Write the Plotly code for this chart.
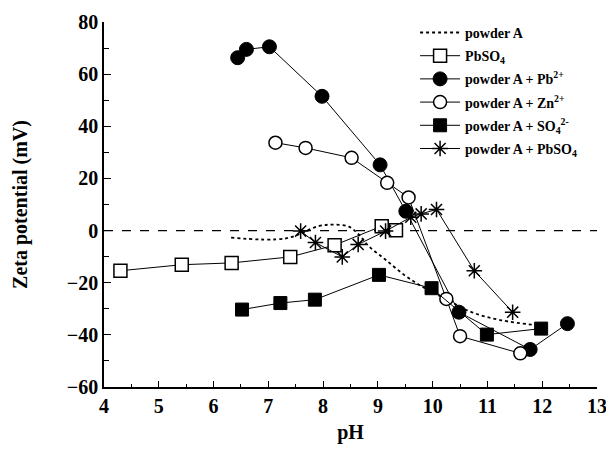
import plotly.graph_objects as go

# powder A (dotted smooth curve)
pa_ph = [6.32, 7.32, 7.92, 8.20, 8.47, 8.65, 8.83, 9.13, 9.50, 9.85, 10.22, 10.70, 11.25, 11.91]
pa_z = [-2.7, -3.0, 1.7, 2.3, 1.5, -1.5, -5.9, -11.0, -17.3, -22.0, -26.0, -31.2, -34.4, -36.3]

# PbSO4 (open squares)
pb_ph = [4.30, 5.42, 6.33, 7.40, 8.21, 9.07, 9.33]
pb_z = [-15.4, -13.1, -12.4, -10.1, -5.6, 1.7, 0.1]

# powder A + Pb2+ (filled circles)
pbion_ph = [6.44, 6.60, 7.02, 7.98, 9.04, 9.51, 10.48, 11.78, 12.46]
pbion_z = [66.3, 69.5, 70.5, 51.5, 25.2, 7.4, -31.3, -45.6, -35.7]

# powder A + Zn2+ (open circles)
zn_ph = [7.13, 7.68, 8.52, 9.17, 9.56, 10.25, 10.50, 11.60]
zn_z = [33.7, 31.7, 27.9, 18.3, 12.7, -26.2, -40.5, -47.1]

# powder A + SO4 2- (filled squares)
so4_ph = [6.52, 7.22, 7.85, 9.02, 9.98, 10.99, 11.98]
so4_z = [-30.3, -27.8, -26.5, -17.0, -22.1, -39.9, -37.6]

# powder A + PbSO4 (asterisks)
mix_ph = [7.59, 7.86, 8.35, 8.64, 9.14, 9.60, 9.79, 10.07, 10.76, 11.46]
mix_z = [-0.2, -4.6, -10.1, -5.3, -0.2, 5.1, 6.4, 8.1, -15.4, -31.3]

x_ticks = [4, 5, 6, 7, 8, 9, 10, 11, 12, 13]
y_ticks = [-60, -40, -20, 0, 20, 40, 60, 80]

FONT = "Liberation Serif"
fig = go.Figure()

fig.add_trace(go.Scatter(x=pa_ph, y=pa_z, mode="lines", name="powder A", legendgroup="a",
                         line=dict(color="black", width=1.8, dash="dot", shape="spline")))
fig.add_trace(go.Scatter(x=pb_ph, y=pb_z, mode="lines+markers", name="PbSO<sub>4</sub>", legendgroup="b",
                         line=dict(color="black", width=1),
                         marker=dict(symbol="square", size=13, color="white",
                                     line=dict(color="black", width=1.5))))
fig.add_trace(go.Scatter(x=pbion_ph, y=pbion_z, mode="lines+markers", name="powder A + Pb<sup>2+</sup>", legendgroup="c",
                         line=dict(color="black", width=1),
                         marker=dict(symbol="circle", size=14, color="black",
                                     line=dict(color="black", width=1))))
fig.add_trace(go.Scatter(x=zn_ph, y=zn_z, mode="lines+markers", name="powder A + Zn<sup>2+</sup>", legendgroup="d",
                         line=dict(color="black", width=1),
                         marker=dict(symbol="circle", size=13, color="white",
                                     line=dict(color="black", width=1.5))))
fig.add_trace(go.Scatter(x=so4_ph, y=so4_z, mode="lines+markers", name="powder A + SO<sub>4</sub><sup>2-</sup>", legendgroup="e",
                         line=dict(color="black", width=1),
                         marker=dict(symbol="square", size=13, color="black",
                                     line=dict(color="black", width=1))))
fig.add_trace(go.Scatter(x=mix_ph, y=mix_z, mode="lines+markers", name="powder A + PbSO<sub>4</sub>", legendgroup="f",
                         line=dict(color="black", width=1),
                         marker=dict(symbol="asterisk-open", size=13, color="black",
                                     line=dict(color="black", width=1.5))))

fig.add_shape(type="line", xref="x", yref="y", x0=4, x1=13, y0=0, y1=0,
              line=dict(color="black", width=1.2, dash="dash"), layer="below")

axis_common = dict(showline=True, linecolor="black", linewidth=1.5, mirror=False, automargin=False,
                   ticks="inside", tickcolor="black", tickwidth=1.2, showgrid=False,
                   zeroline=False, ticklabeloverflow="allow",
                   tickfont=dict(family=FONT, size=20, color="black", weight=700))

fig.update_xaxes(range=[4, 13], tickvals=x_ticks, ticklen=6,
                 minor=dict(dtick=0.5, ticklen=3, ticks="inside", tickcolor="black", tickwidth=1),
                 title=dict(text="pH", font=dict(family=FONT, size=20, color="black", weight=700), standoff=18),
                 **axis_common)
fig.update_yaxes(range=[-60, 80], tickvals=y_ticks, ticklen=7,
                 minor=dict(dtick=10, ticklen=5, ticks="inside", tickcolor="black", tickwidth=1),
                 title=dict(text="Zeta potential (mV)", font=dict(family=FONT, size=20, color="black", weight=700), standoff=34),
                 **axis_common)

fig.update_layout(
    width=598, height=436,
    margin=dict(l=96, r=9, t=12, b=57),
    plot_bgcolor="white", paper_bgcolor="white",
    font=dict(family=FONT, color="black"),
    legend=dict(x=0.631, y=1.014, xanchor="left", yanchor="top",
                font=dict(family=FONT, size=14, color="black", weight=700),
                bgcolor="rgba(0,0,0,0)", itemwidth=40, tracegroupgap=2),
)

fig.write_html("out.html")
